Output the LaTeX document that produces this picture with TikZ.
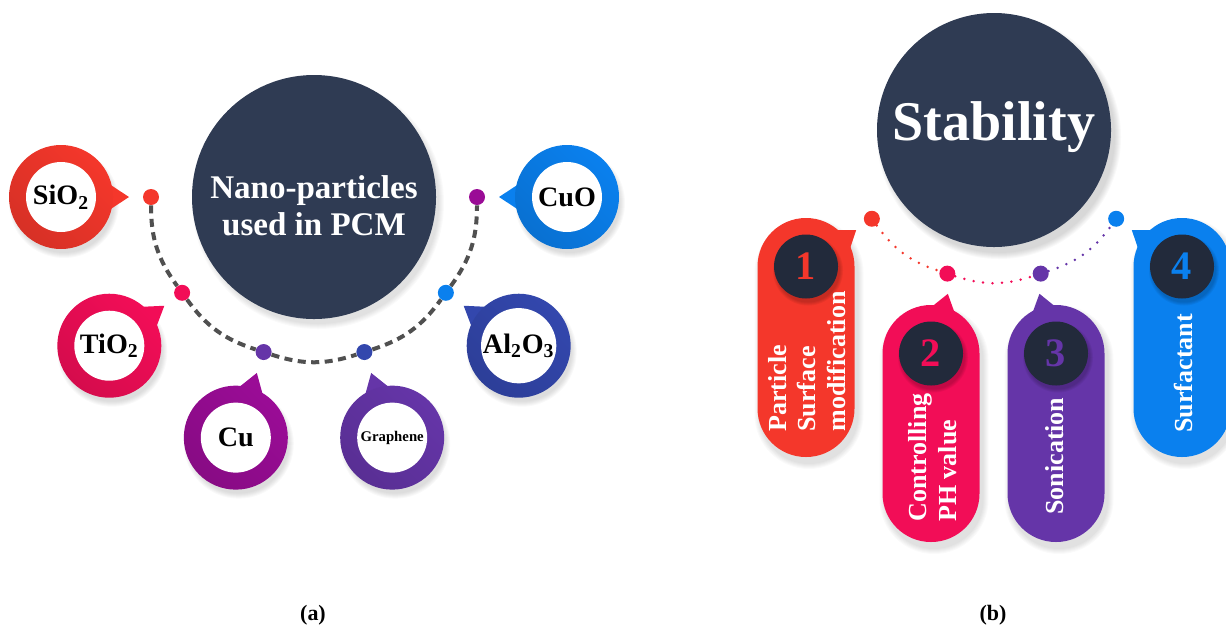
\documentclass[tikz,border=0pt]{standalone}
\usepackage{fontspec}
\setmainfont{Liberation Serif}
\usetikzlibrary{calc}

\definecolor{navy}{HTML}{2F3B53}
\definecolor{numdark}{HTML}{222A3B}
\definecolor{cred}{HTML}{F4372B}
\definecolor{cpink}{HTML}{F20D57}
\definecolor{cmagenta}{HTML}{9A0C96}
\definecolor{cviolet}{HTML}{6535A8}
\definecolor{cindigo}{HTML}{3347AD}
\definecolor{cblue}{HTML}{0A80EE}
\definecolor{dashgray}{HTML}{505050}

\tikzset{
    hub/.style={circle, fill=navy, inner sep=0pt},
    hubtext/.style={text=white, align=center, inner sep=0pt},
    dot/.style={circle, minimum size=3.2mm, inner sep=0pt},
    hole/.style={circle, fill=white, minimum size=14mm, inner sep=0pt,
        font=\fontsize{16}{19}\bfseries\selectfont},
    numball/.style={circle, fill=numdark, minimum size=12.8mm, inner sep=0pt,
        font=\fontsize{23}{26}\bfseries\selectfont},
    pilltext/.style={rotate=90, anchor=west, align=left, text=white, inner sep=0pt,
        font=\fontsize{14.8}{17}\bfseries\selectfont},
    dashline/.style={dashgray, line width=0.8mm, dash pattern=on 1.6mm off 1.1mm},
    dotline/.style={line width=0.55mm, line cap=round, dash pattern=on 0pt off 1.9mm},
    caption/.style={font=\fontsize{12.5}{15}\bfseries\selectfont, inner sep=0pt}
}

\begin{document}
\begin{tikzpicture}[x=0.2mm, y=0.2mm]
    \useasboundingbox (0,0) rectangle (1226,-631);

    % ---- (a) nano-particles ----
    \foreach \k in {1,...,6}
        \fill[black, opacity=0.02] (318,-203) circle (120+\k);
    \node[hub, minimum size=48.8mm] (nano) at (314,-197) {};
    \node[hubtext, font=\fontsize{18.8}{21}\bfseries\selectfont] (nanotxt) at (314,-206) {Nano-particles\\used in PCM};

    \foreach \i/\col/\dotcol/\lab in {0/cred/cred/SiO\textsubscript{2},
                                     1/cpink/cpink/TiO\textsubscript{2},
                                     2/cmagenta/cviolet/Cu,
                                     3/cviolet/cindigo/{\fontsize{8.4}{10}\selectfont Graphene},
                                     4/cindigo/cblue/Al\textsubscript{2}O\textsubscript{3},
                                     5/cblue/cmagenta/CuO} {
        \pgfmathsetmacro{\ang}{180+36*\i}
        \node[dot, fill=\dotcol] (a\i) at ($(nano)+(\ang:163)$) {};
        \coordinate (rc\i) at ($(nano)+(\ang:253)$);

        \foreach \k in {1,...,6}
            \fill[black, opacity=0.022] ($(rc\i)+(3,-6)$) circle (49+\k);
        \fill[\col] ($(rc\i)!13.6mm!(nano)$) -- ($(rc\i)!10mm!15:(nano)$) -- ($(rc\i)!10mm!-15:(nano)$) -- cycle;
        \shade[left color=\col, right color=\col!88!black, shading angle=-45] (rc\i) circle (52);
        \node[hole] (r\i) at (rc\i) {\lab};
    }

    \foreach \i in {1,...,5} {
        \pgfmathtruncatemacro{\prev}{\i-1}
        \draw[dashline] (a\prev) to[bend right=18] (a\i);
    }

    \node[caption] (capa) at (313,-615) {(a)};

    % ---- (b) stability ----
    \foreach \k in {1,...,7}
        \fill[black, opacity=0.025] (999,-137) circle (115+\k);
    \node[hub, minimum size=46.8mm] (stab) at (994,-130) {};
    \node[hubtext, font=\fontsize{31.9}{36}\bfseries\selectfont] (stabtxt) at (994,-127) {Stability};

    \foreach \i/\x/\top/\bot/\col in {1/806/218/457/cred,
                                      2/931/305/542/cpink,
                                      3/1056/305/542/cviolet,
                                      4/1182/218/457/cblue} {
        \node[dot, fill=\col] (b\i) at ($(stab)+(180+36*\i:151)$) {};
        \coordinate (pc\i) at (\x,{-\top-48.5});

        \foreach \k in {1,...,6}
            \fill[black, opacity=0.018, rounded corners={(9.7+0.2*\k)*1mm}]
                ({\x-48.5-\k+3},{-\top+\k-6}) rectangle ({\x+48.5+\k+3},{-\bot-\k-6});
        \fill[\col] ($(pc\i)!12.4mm!(stab)$) -- ($(pc\i)!9.2mm!16:(stab)$) -- ($(pc\i)!9.2mm!-16:(stab)$) -- cycle;
        \fill[\col, rounded corners=9.69mm] ({\x-48.5},-\top) rectangle ({\x+48.5},-\bot);

        \foreach \k in {1,...,4}
            \fill[black, opacity=0.05] ($(pc\i)+(2,-4)$) circle (31+\k);
        \node[numball, text=\col] (n\i) at (pc\i) {\i};
    }

    \draw[dotline, cred] (b1) to[bend right=18] (b2);
    \draw[dotline, cpink] (b2) to[bend right=18] (b3);
    \draw[dotline, cviolet] (b3) to[bend right=18] (b4);

    \node[pilltext] (t1) at (807,-432) {Particle\\Surface\\modification};
    \node[pilltext] (t2) at (933,-522) {Controlling\\PH value};
    \node[pilltext] (t3) at (1055,-515) {Sonication};
    \node[pilltext] (t4) at (1183,-433) {Surfactant};

    \node[caption] (capb) at (993,-615) {(b)};
\end{tikzpicture}
\end{document}
